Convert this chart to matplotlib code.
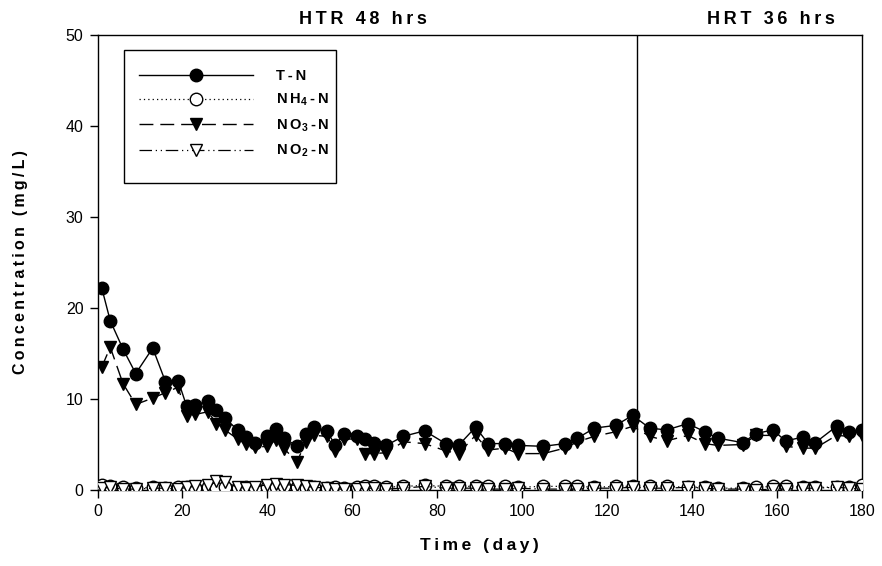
import matplotlib
matplotlib.use("Agg")
import matplotlib.pyplot as plt
from matplotlib.patches import Rectangle

plt.rcParams['font.family'] = ['Liberation Sans', 'DejaVu Sans']
plt.rcParams['mathtext.default'] = 'bf'
plt.rcParams['mathtext.fontset'] = 'custom'
plt.rcParams['mathtext.bf'] = 'Liberation Sans:bold'
plt.rcParams['mathtext.rm'] = 'Liberation Sans'

days = [1, 3, 6, 9, 13, 16, 19, 21, 23, 26,
        28, 30, 33, 35, 37, 40, 42, 44, 47, 49,
        51, 54, 56, 58, 61, 63, 65, 68, 72, 77,
        82, 85, 89, 92, 96, 99, 105, 110, 113, 117,
        122, 126, 130, 134, 139, 143, 146, 152, 155, 159,
        162, 166, 169, 174, 177, 180]

tn = [22.2, 18.6, 15.5, 12.8, 15.6, 11.9, 12.0, 9.2, 9.3, 9.8,
      8.8, 7.9, 6.6, 5.8, 5.2, 5.9, 6.7, 5.7, 4.8, 6.2,
      6.9, 6.5, 4.9, 6.2, 5.9, 5.6, 5.2, 4.9, 5.9, 6.5,
      5.1, 4.9, 6.9, 5.1, 5.1, 4.9, 4.8, 5.1, 5.7, 6.8,
      7.1, 8.2, 6.8, 6.6, 7.3, 6.4, 5.7, 5.2, 6.2, 6.6,
      5.4, 5.8, 5.2, 7.0, 6.4, 6.6]

no3 = [13.5, 15.7, 11.7, 9.4, 10.1, 10.7, 11.3, 8.1, 8.3, 8.6,
       7.3, 6.6, 5.6, 5.1, 4.7, 4.8, 5.5, 4.5, 3.1, 5.3,
       6.0, 5.9, 4.3, 5.6, 5.6, 4.0, 4.0, 4.1, 5.3, 5.1,
       4.3, 4.0, 6.0, 4.4, 4.6, 4.0, 4.0, 4.6, 5.3, 5.9,
       6.4, 7.0, 5.9, 5.4, 6.0, 5.1, 4.9, 5.0, 6.0, 6.0,
       4.8, 4.6, 4.6, 6.0, 5.9, 6.0]

nh4 = [0.5, 0.4, 0.3, 0.2, 0.3, 0.2, 0.3, 0.3, 0.2, 0.3,
       0.2, 0.3, 0.2, 0.3, 0.2, 0.3, 0.3, 0.4, 0.3, 0.2,
       0.3, 0.2, 0.3, 0.2, 0.3, 0.4, 0.4, 0.3, 0.4, 0.5,
       0.4, 0.4, 0.4, 0.4, 0.4, 0.3, 0.4, 0.4, 0.4, 0.3,
       0.4, 0.4, 0.4, 0.4, 0.3, 0.3, 0.2, 0.2, 0.3, 0.4,
       0.4, 0.3, 0.3, 0.3, 0.3, 0.5]

no2 = [0.2, 0.3, 0.1, 0.1, 0.2, 0.2, 0.1, 0.3, 0.4, 0.6,
       1.0, 0.9, 0.3, 0.2, 0.3, 0.6, 0.7, 0.6, 0.5, 0.4,
       0.3, 0.2, 0.1, 0.1, 0.1, 0.2, 0.2, 0.1, 0.2, 0.4,
       0.2, 0.2, 0.2, 0.1, 0.1, 0.2, 0.1, 0.1, 0.1, 0.2,
       0.2, 0.3, 0.2, 0.2, 0.3, 0.2, 0.1, 0.1, 0.0, 0.1,
       0.1, 0.2, 0.2, 0.3, 0.2, 0.1]

TS = "\u2009"  # thin space for letter spacing
labels = ["T" + TS + "-" + TS + "N",
          "N" + TS + "H$_4$" + TS + "-" + TS + "N",
          "N" + TS + "O$_3$" + TS + "-" + TS + "N",
          "N" + TS + "O$_2$" + TS + "-" + TS + "N"]
period_labels = ["HTR 48 hrs", "HRT 36 hrs"]
period_split = 127
period_label_x = [62.6, 158.6]


def spaced(s):
    return TS.join(s)


W, H = 882, 566
fig = plt.figure(figsize=(W / 100, H / 100), dpi=100)
ax_l, ax_r, ax_t, ax_b = 97.5, 862, 35, 490
ax = fig.add_axes([ax_l / W, 1 - ax_b / H, (ax_r - ax_l) / W, (ax_b - ax_t) / H])


def px2ax(x, y):
    return (x - ax_l) / (ax_r - ax_l), (ax_b - y) / (ax_b - ax_t)


ms = 9
ax.plot(days, tn, color='black', lw=1.0, marker='o', ms=ms, mfc='black', mec='black', label=labels[0], zorder=4)
ax.plot(days, nh4, color='black', lw=0.9, ls=(0, (1, 2.5)), marker='o', ms=ms, mfc='white', mec='black', mew=1.0, label=labels[1], zorder=3)
ax.plot(days, no3, color='black', lw=1.0, ls=(0, (10, 5)), marker='v', ms=ms, mfc='black', mec='black', label=labels[2], zorder=4)
ax.plot(days, no2, color='black', lw=0.9, ls=(0, (10, 3, 1, 3, 1, 3)), marker='v', ms=ms, mfc='white', mec='black', mew=1.0, label=labels[3], zorder=3)

ax.axvline(period_split, color='black', lw=1.0, zorder=2)

ax.set_xlim(0, 180)
ax.set_ylim(0, 50)
ax.set_xticks(range(0, 181, 20))
ax.set_yticks(range(0, 51, 10))
ax.tick_params(direction='out', length=6, width=1, labelsize=11.5, pad=4)
for s in ax.spines.values():
    s.set_linewidth(1.0)

ax.set_xlabel(spaced("Time (day)"), fontsize=12.5, fontweight='bold', labelpad=14)
ax.set_ylabel(spaced("Concentration (mg/L)"), fontsize=11.5, fontweight='bold', labelpad=27)

for x, t in zip(period_label_x, period_labels):
    ax.text(x, 50.8, spaced(t), ha='center', va='bottom', fontsize=13, fontweight='bold')

# legend frame
fx0, fy0 = px2ax(124, 183)
fx1, fy1 = px2ax(336, 50)
ax.add_patch(Rectangle((fx0, fy0), fx1 - fx0, fy1 - fy0, transform=ax.transAxes,
                       facecolor='white', edgecolor='black', lw=1.0, zorder=5))

lx, ly = px2ax(139, 69)
leg = ax.legend(loc='upper left', bbox_to_anchor=(lx, ly), borderaxespad=0, borderpad=0,
                frameon=False, handlelength=7.8, handletextpad=1.6, labelspacing=0.62,
                prop={'weight': 'bold', 'size': 10.5})
leg.set_zorder(6)

fig.savefig("out.png", dpi=100)
